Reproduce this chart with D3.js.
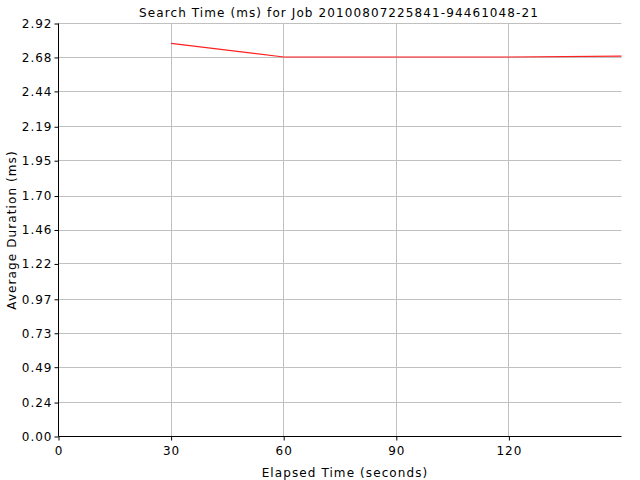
<!DOCTYPE html>
<html>
<head>
<meta charset="utf-8">
<script src="https://cdn.jsdelivr.net/npm/d3@7"></script>
<style>
  body { margin: 0; background: #fff; }
  text { font-family: "DejaVu Sans", sans-serif; font-size: 12px; fill: #000; letter-spacing: 1.1px; }
</style>
</head>
<body>
<div id="chart"></div>
<script>
// data
var elapsed = [30, 60, 90, 120, 150];
var avgDuration = [2.78, 2.683, 2.683, 2.683, 2.69];
var xTicks = [0, 30, 60, 90, 120];
var yTicks = [0.00, 0.24, 0.49, 0.73, 0.97, 1.22, 1.46, 1.70, 1.95, 2.19, 2.44, 2.68, 2.92];

var width = 640, height = 480;
var plotL = 58.5, plotR = 621.5, plotT = 23.5, plotB = 436.5;

var svg = d3.select("#chart")
    .append("svg")
    .attr("width", width)
    .attr("height", height);

var x = d3.scaleLinear().domain([0, 150]).range([plotL, plotR]);
var y = d3.scaleLinear().domain([0, 2.92]).range([plotB, plotT]);

// grid
svg.append("g")
  .selectAll("line")
  .data(yTicks.slice(1))
  .enter().append("line")
  .attr("x1", plotL).attr("x2", plotR)
  .attr("y1", function(d){ return Math.round(y(d) - 0.5) + 0.5; })
  .attr("y2", function(d){ return Math.round(y(d) - 0.5) + 0.5; })
  .attr("stroke", "#c0c0c0");

svg.append("g")
  .selectAll("line")
  .data(xTicks.slice(1))
  .enter().append("line")
  .attr("y1", plotT).attr("y2", plotB)
  .attr("x1", function(d){ return Math.round(x(d) - 0.5) + 0.5; })
  .attr("x2", function(d){ return Math.round(x(d) - 0.5) + 0.5; })
  .attr("stroke", "#c0c0c0");

// axes
var xAxis = svg.append("g")
  .attr("transform", "translate(0," + plotB + ")")
  .call(d3.axisBottom(x).tickValues(xTicks).tickSize(4).tickSizeOuter(0).tickFormat(d3.format("d")));
xAxis.select(".domain").attr("d", "M" + plotL + ",0H" + plotR);

var yAxis = svg.append("g")
  .attr("transform", "translate(" + plotL + ",0)")
  .call(d3.axisLeft(y).tickValues(yTicks).tickSize(4).tickSizeOuter(0).tickFormat(d3.format(".2f")));
yAxis.select(".domain").attr("d", "M0," + plotT + "V" + plotB);

svg.selectAll(".tick text")
  .style("font-family", "DejaVu Sans, sans-serif")
  .style("font-size", "12px")
  .style("letter-spacing", "1px")
  .attr("fill", "#000");
xAxis.selectAll(".tick text").attr("y", 8).attr("dy", "0.9em");
yAxis.selectAll(".tick text").attr("x", -6);
svg.selectAll(".domain, .tick line").attr("stroke", "#000");

// line
var line = d3.line()
  .x(function(d, i){ return x(elapsed[i]); })
  .y(function(d){ return y(d); });

svg.append("path")
  .datum(avgDuration)
  .attr("d", line)
  .attr("fill", "none")
  .attr("stroke", "#ff2020")
  .attr("stroke-width", 1.2);

// labels
svg.append("text")
  .attr("x", 339)
  .attr("y", 17)
  .attr("text-anchor", "middle")
  .text("Search Time (ms) for Job 20100807225841-94461048-21");

svg.append("text")
  .attr("x", 345)
  .attr("y", 477)
  .attr("text-anchor", "middle")
  .text("Elapsed Time (seconds)");

svg.append("text")
  .attr("transform", "translate(16," + ((plotT + plotB) / 2) + ") rotate(-90)")
  .attr("text-anchor", "middle")
  .text("Average Duration (ms)");
</script>
</body>
</html>
